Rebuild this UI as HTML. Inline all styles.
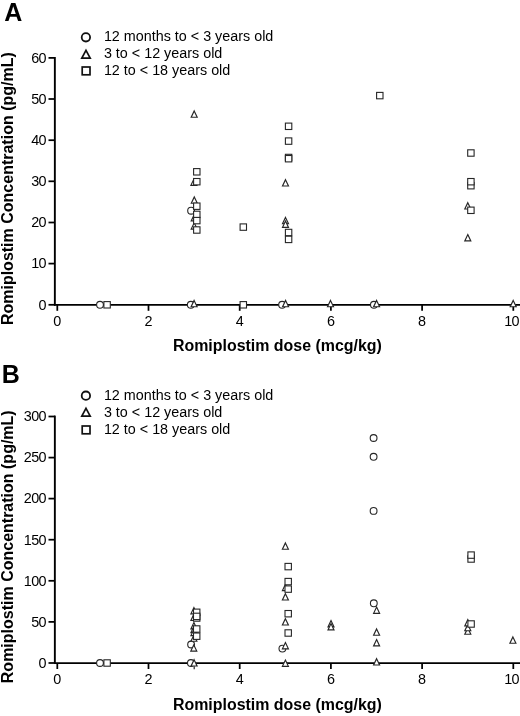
<!DOCTYPE html>
<html><head><meta charset="utf-8"><title>Figure</title>
<style>html,body{margin:0;padding:0;background:#fff;font-family:"Liberation Sans",sans-serif}svg{display:block;will-change:transform}</style>
</head><body>
<svg width="520" height="716" viewBox="0 0 520 716" font-family="'Liberation Sans', sans-serif">
<rect width="520" height="716" fill="#fff"/>
<g stroke="#000" stroke-width="1.75" fill="none">
<path d="M54.85 57.0V305.6" stroke-width="1.9"/>
<path d="M54 304.8H520"/>
<path d="M48.5 304.8H55"/>
<path d="M48.5 263.6H55"/>
<path d="M48.5 222.5H55"/>
<path d="M48.5 181.3H55"/>
<path d="M48.5 140.2H55"/>
<path d="M48.5 99.0H55"/>
<path d="M48.5 57.9H55"/>
<path d="M57.3 304.8V310.8"/>
<path d="M148.5 304.8V310.8"/>
<path d="M239.7 304.8V310.8"/>
<path d="M330.9 304.8V310.8"/>
<path d="M422.1 304.8V310.8"/>
<path d="M513.3 304.8V310.8"/>
</g>
<g font-size="14.4" fill="#000">
<text x="46.0" y="309.6" text-anchor="end" letter-spacing="-0.6">0</text>
<text x="46.0" y="268.4" text-anchor="end" letter-spacing="-0.6">10</text>
<text x="46.0" y="227.3" text-anchor="end" letter-spacing="-0.6">20</text>
<text x="46.0" y="186.1" text-anchor="end" letter-spacing="-0.6">30</text>
<text x="46.0" y="145.0" text-anchor="end" letter-spacing="-0.6">40</text>
<text x="46.0" y="103.8" text-anchor="end" letter-spacing="-0.6">50</text>
<text x="46.0" y="62.7" text-anchor="end" letter-spacing="-0.6">60</text>
<text x="57.3" y="326.1" text-anchor="middle">0</text>
<text x="148.5" y="326.1" text-anchor="middle">2</text>
<text x="239.7" y="326.1" text-anchor="middle">4</text>
<text x="330.9" y="326.1" text-anchor="middle">6</text>
<text x="422.1" y="326.1" text-anchor="middle">8</text>
<text x="511.6" y="326.1" text-anchor="middle" letter-spacing="-0.6">10</text>
</g>
<text transform="translate(13.4 325.1) rotate(-90)" font-size="16.0" font-weight="bold">Romiplostim Concentration (pg/mL)</text>
<text x="172.9" y="351" font-size="15.95" font-weight="bold">Romiplostim dose (mcg/kg)</text>
<text x="4.3" y="20.9" font-size="25" font-weight="bold">A</text>
<g fill="#fff" stroke="#111">
<circle cx="85.9" cy="37.3" r="4.2" stroke-width="1.8"/>
<path d="M86.0 50.3L90.2 58.1H81.8Z" stroke-width="1.7"/>
<rect x="82.2" y="67.0" width="7.8" height="7.8" stroke-width="1.7"/>
</g>
<g font-size="14.35" fill="#000">
<text x="103.9" y="41">12 months to &lt; 3 years old</text>
<text x="103.9" y="58">3 to &lt; 12 years old</text>
<text x="103.9" y="75">12 to &lt; 18 years old</text>
</g>
<g fill="#fff" stroke="#262626" stroke-width="1.1">
<circle cx="100.0" cy="304.8" r="3.4" stroke-width="1.1"/>
<circle cx="191.1" cy="210.7" r="3.4" stroke-width="1.1"/>
<circle cx="190.8" cy="304.8" r="3.4" stroke-width="1.1"/>
<circle cx="282.1" cy="304.8" r="3.4" stroke-width="1.1"/>
<circle cx="373.9" cy="304.8" r="3.4" stroke-width="1.1"/>
<path d="M194.2 110.9L197.2 117.2H191.2Z" stroke-width="1.15"/>
<path d="M193.9 179.0L196.9 185.3H190.9Z" stroke-width="1.15"/>
<path d="M194.3 196.9L197.3 203.2H191.3Z" stroke-width="1.15"/>
<path d="M194.2 214.6L197.2 220.9H191.2Z" stroke-width="1.15"/>
<path d="M194.2 222.8L197.2 229.1H191.2Z" stroke-width="1.15"/>
<path d="M194.1 300.4L197.1 306.7H191.1Z" stroke-width="1.15"/>
<path d="M285.5 179.7L288.5 186.0H282.5Z" stroke-width="1.15"/>
<path d="M285.5 217.4L288.5 223.7H282.5Z" stroke-width="1.15"/>
<path d="M285.5 221.1L288.5 227.4H282.5Z" stroke-width="1.15"/>
<path d="M285.6 300.4L288.6 306.7H282.6Z" stroke-width="1.15"/>
<path d="M330.5 300.4L333.5 306.7H327.5Z" stroke-width="1.15"/>
<path d="M376.6 300.4L379.6 306.7H373.6Z" stroke-width="1.15"/>
<path d="M467.8 202.7L470.8 209.0H464.8Z" stroke-width="1.15"/>
<path d="M467.8 234.6L470.8 240.9H464.8Z" stroke-width="1.15"/>
<path d="M513.2 300.4L516.2 306.7H510.2Z" stroke-width="1.15"/>
<rect x="103.9" y="301.6" width="6.4" height="6.4" stroke-width="1.1"/>
<rect x="193.6" y="168.6" width="6.4" height="6.4" stroke-width="1.1"/>
<rect x="193.6" y="178.5" width="6.4" height="6.4" stroke-width="1.1"/>
<rect x="193.6" y="203.0" width="6.4" height="6.4" stroke-width="1.1"/>
<rect x="193.6" y="211.2" width="6.4" height="6.4" stroke-width="1.1"/>
<rect x="193.6" y="217.4" width="6.4" height="6.4" stroke-width="1.1"/>
<rect x="193.6" y="226.8" width="6.4" height="6.4" stroke-width="1.1"/>
<rect x="240.1" y="223.9" width="6.4" height="6.4" stroke-width="1.1"/>
<rect x="240.1" y="301.6" width="6.4" height="6.4" stroke-width="1.1"/>
<rect x="285.4" y="123.1" width="6.4" height="6.4" stroke-width="1.1"/>
<rect x="285.4" y="137.9" width="6.4" height="6.4" stroke-width="1.1"/>
<rect x="285.4" y="154.3" width="6.4" height="6.4" stroke-width="1.1"/>
<rect x="285.4" y="155.5" width="6.4" height="6.4" stroke-width="1.1"/>
<rect x="285.4" y="229.3" width="6.4" height="6.4" stroke-width="1.1"/>
<rect x="285.4" y="236.2" width="6.4" height="6.4" stroke-width="1.1"/>
<rect x="376.6" y="92.4" width="6.4" height="6.4" stroke-width="1.1"/>
<rect x="467.7" y="149.8" width="6.4" height="6.4" stroke-width="1.1"/>
<rect x="467.7" y="182.5" width="6.4" height="6.4" stroke-width="1.1"/>
<rect x="467.7" y="178.5" width="6.4" height="6.4" stroke-width="1.1"/>
<rect x="467.7" y="207.1" width="6.4" height="6.4" stroke-width="1.1"/>
</g>
<g stroke="#000" stroke-width="1.75" fill="none">
<path d="M54.85 415.6V663.8" stroke-width="1.9"/>
<path d="M54 663.0H520"/>
<path d="M48.5 663.0H55"/>
<path d="M48.5 621.9H55"/>
<path d="M48.5 580.8H55"/>
<path d="M48.5 539.7H55"/>
<path d="M48.5 498.6H55"/>
<path d="M48.5 457.6H55"/>
<path d="M48.5 416.5H55"/>
<path d="M57.3 663.0V669.0"/>
<path d="M148.5 663.0V669.0"/>
<path d="M239.7 663.0V669.0"/>
<path d="M330.9 663.0V669.0"/>
<path d="M422.1 663.0V669.0"/>
<path d="M513.3 663.0V669.0"/>
</g>
<g font-size="14.4" fill="#000">
<text x="46.0" y="667.8" text-anchor="end" letter-spacing="-0.6">0</text>
<text x="46.0" y="626.7" text-anchor="end" letter-spacing="-0.6">50</text>
<text x="46.0" y="585.6" text-anchor="end" letter-spacing="-0.6">100</text>
<text x="46.0" y="544.5" text-anchor="end" letter-spacing="-0.6">150</text>
<text x="46.0" y="503.4" text-anchor="end" letter-spacing="-0.6">200</text>
<text x="46.0" y="462.4" text-anchor="end" letter-spacing="-0.6">250</text>
<text x="46.0" y="421.3" text-anchor="end" letter-spacing="-0.6">300</text>
<text x="57.3" y="684.4" text-anchor="middle">0</text>
<text x="148.5" y="684.4" text-anchor="middle">2</text>
<text x="239.7" y="684.4" text-anchor="middle">4</text>
<text x="330.9" y="684.4" text-anchor="middle">6</text>
<text x="422.1" y="684.4" text-anchor="middle">8</text>
<text x="511.6" y="684.4" text-anchor="middle" letter-spacing="-0.6">10</text>
</g>
<text transform="translate(13.4 683.2) rotate(-90)" font-size="16.0" font-weight="bold">Romiplostim Concentration (pg/mL)</text>
<text x="172.9" y="710" font-size="15.95" font-weight="bold">Romiplostim dose (mcg/kg)</text>
<text x="1.8" y="382.9" font-size="25" font-weight="bold">B</text>
<g fill="#fff" stroke="#111">
<circle cx="85.9" cy="395.7" r="4.2" stroke-width="1.8"/>
<path d="M86.0 408.3L90.2 416.1H81.8Z" stroke-width="1.7"/>
<rect x="82.2" y="426.0" width="7.8" height="7.8" stroke-width="1.7"/>
</g>
<g font-size="14.35" fill="#000">
<text x="103.9" y="400">12 months to &lt; 3 years old</text>
<text x="103.9" y="417">3 to &lt; 12 years old</text>
<text x="103.9" y="434">12 to &lt; 18 years old</text>
</g>
<g fill="#fff" stroke="#262626" stroke-width="1.1">
<circle cx="100.0" cy="663.0" r="3.4" stroke-width="1.1"/>
<circle cx="190.9" cy="663.0" r="3.4" stroke-width="1.1"/>
<circle cx="191.1" cy="644.5" r="3.4" stroke-width="1.1"/>
<circle cx="282.4" cy="648.6" r="3.4" stroke-width="1.1"/>
<circle cx="373.6" cy="438.0" r="3.4" stroke-width="1.1"/>
<circle cx="373.6" cy="456.8" r="3.4" stroke-width="1.1"/>
<circle cx="373.6" cy="510.9" r="3.4" stroke-width="1.1"/>
<circle cx="373.8" cy="603.3" r="3.4" stroke-width="1.1"/>
<path d="M194.1 659.7L197.1 666.0H191.1Z" stroke-width="1.15"/>
<path d="M193.9 607.5L196.9 613.8H190.9Z" stroke-width="1.15"/>
<path d="M193.9 614.2L196.9 620.5H190.9Z" stroke-width="1.15"/>
<path d="M193.9 622.6L196.9 628.9H190.9Z" stroke-width="1.15"/>
<path d="M193.9 626.4L196.9 632.6H190.9Z" stroke-width="1.15"/>
<path d="M193.9 629.4L196.9 635.6H190.9Z" stroke-width="1.15"/>
<path d="M193.9 635.0L196.9 641.2H190.9Z" stroke-width="1.15"/>
<path d="M193.8 644.9L196.8 651.1H190.8Z" stroke-width="1.15"/>
<path d="M285.4 542.9L288.4 549.2H282.4Z" stroke-width="1.15"/>
<path d="M285.4 584.3L288.4 590.6H282.4Z" stroke-width="1.15"/>
<path d="M285.4 593.7L288.4 600.0H282.4Z" stroke-width="1.15"/>
<path d="M285.4 618.7L288.4 625.0H282.4Z" stroke-width="1.15"/>
<path d="M285.4 642.5L288.4 648.8H282.4Z" stroke-width="1.15"/>
<path d="M285.4 660.0L288.4 666.3H282.4Z" stroke-width="1.15"/>
<path d="M331.0 620.6L334.0 626.9H328.0Z" stroke-width="1.15"/>
<path d="M331.0 623.6L334.0 629.9H328.0Z" stroke-width="1.15"/>
<path d="M376.6 607.0L379.6 613.3H373.6Z" stroke-width="1.15"/>
<path d="M376.6 628.9L379.6 635.2H373.6Z" stroke-width="1.15"/>
<path d="M376.6 639.6L379.6 645.9H373.6Z" stroke-width="1.15"/>
<path d="M376.6 658.7L379.6 665.0H373.6Z" stroke-width="1.15"/>
<path d="M467.8 627.9L470.8 634.2H464.8Z" stroke-width="1.15"/>
<path d="M467.8 624.4L470.8 630.7H464.8Z" stroke-width="1.15"/>
<path d="M467.8 619.6L470.8 625.9H464.8Z" stroke-width="1.15"/>
<path d="M512.9 636.9L515.9 643.2H509.9Z" stroke-width="1.15"/>
<rect x="103.9" y="659.8" width="6.4" height="6.4" stroke-width="1.1"/>
<rect x="193.5" y="614.8" width="6.4" height="6.4" stroke-width="1.1"/>
<rect x="193.5" y="609.1" width="6.4" height="6.4" stroke-width="1.1"/>
<rect x="193.5" y="613.2" width="6.4" height="6.4" stroke-width="1.1"/>
<rect x="193.5" y="625.8" width="6.4" height="6.4" stroke-width="1.1"/>
<rect x="193.5" y="633.0" width="6.4" height="6.4" stroke-width="1.1"/>
<rect x="285.0" y="563.4" width="6.4" height="6.4" stroke-width="1.1"/>
<rect x="285.0" y="578.4" width="6.4" height="6.4" stroke-width="1.1"/>
<rect x="285.0" y="585.9" width="6.4" height="6.4" stroke-width="1.1"/>
<rect x="285.0" y="610.5" width="6.4" height="6.4" stroke-width="1.1"/>
<rect x="285.0" y="629.8" width="6.4" height="6.4" stroke-width="1.1"/>
<rect x="467.9" y="555.8" width="6.4" height="6.4" stroke-width="1.1"/>
<rect x="467.9" y="551.9" width="6.4" height="6.4" stroke-width="1.1"/>
<rect x="467.9" y="620.8" width="6.4" height="6.4" stroke-width="1.1"/>
</g>
<path d="M194.2 666.2V669.3" stroke="#262626" stroke-width="1.2" fill="none"/>
</svg>
</body></html>
